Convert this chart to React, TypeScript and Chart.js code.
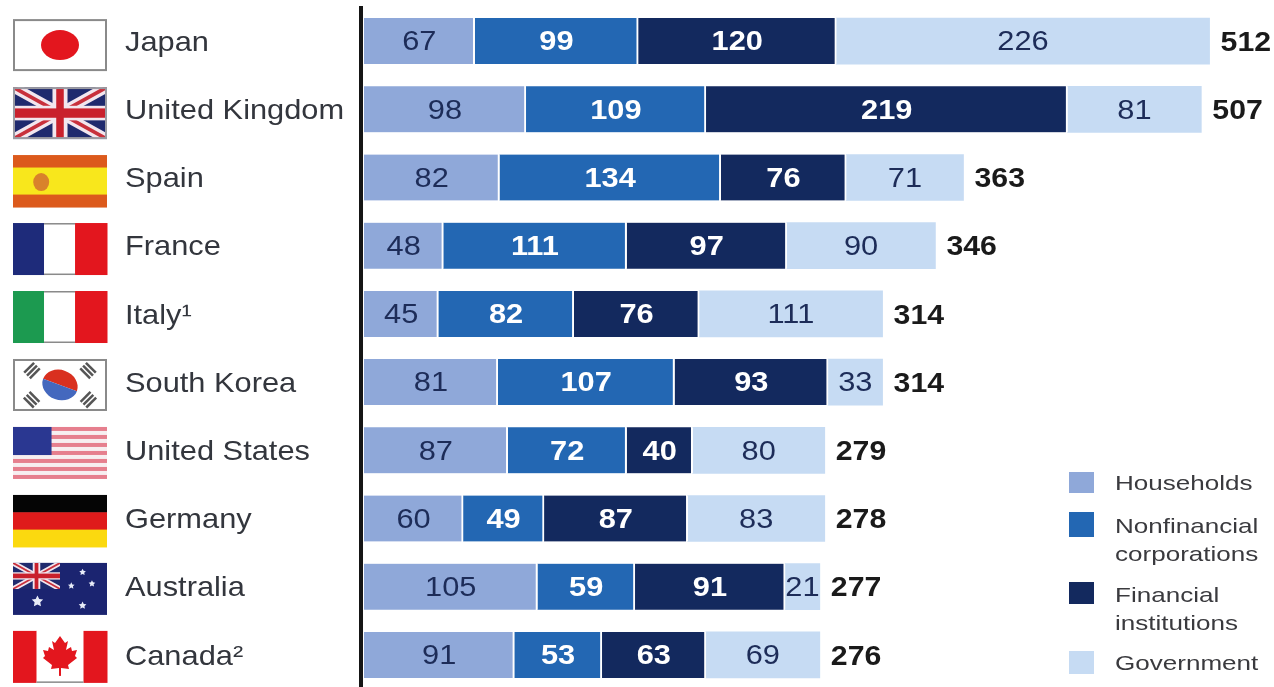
import React, { useEffect, useRef } from "react";
import { Chart, registerables } from "chart.js";

Chart.register(...registerables);

const countries = ["Japan", "United Kingdom", "Spain", "France", "Italy¹", "South Korea", "United States", "Germany", "Australia", "Canada²"];
const households = [67, 98, 82, 48, 45, 81, 87, 60, 105, 91];
const nonfinancial = [99, 109, 134, 111, 82, 107, 72, 49, 59, 53];
const financial = [120, 219, 76, 97, 76, 93, 40, 87, 91, 63];
const government = [226, 81, 71, 90, 111, 33, 80, 83, 21, 69];
const totals = [512, 507, 363, 346, 314, 314, 279, 278, 277, 276];
const flagCodes = ["jp", "uk", "es", "fr", "it", "kr", "us", "de", "au", "ca"];

const HOUSE = "#8FA8D9";
const NONFIN = "#2367B3";
const FIN = "#13295E";
const GOV = "#C6DBF3";
const NAVY = "#1E2B7A";
const RED = "#E3161E";
const FONT = '"Liberation Sans", Arial, sans-serif';

const FLAG_W = 94;
const FLAG_H = 52;

function stretchedText(ctx: CanvasRenderingContext2D, text: string, x: number, y: number, font: string, color: string, align: CanvasTextAlign, sx: number) {
  ctx.save();
  ctx.translate(x, y);
  ctx.scale(sx, 1);
  ctx.font = font;
  ctx.fillStyle = color;
  ctx.textAlign = align;
  ctx.textBaseline = "middle";
  ctx.fillText(text, 0, 0);
  ctx.restore();
}

function unionJack(c: CanvasRenderingContext2D, w: number, h: number) {
  c.fillStyle = "#1F2A6E";
  c.fillRect(0, 0, w, h);
  c.save();
  c.beginPath();
  c.rect(0, 0, w, h);
  c.clip();
  const diag = (col: string, lw: number) => {
    c.strokeStyle = col;
    c.lineWidth = lw;
    c.beginPath();
    c.moveTo(0, 0);
    c.lineTo(w, h);
    c.moveTo(w, 0);
    c.lineTo(0, h);
    c.stroke();
  };
  diag("#F2E6EE", h * 0.2);
  diag("#C8303C", h * 0.07);
  c.fillStyle = "#F2E6EE";
  c.fillRect(w * 0.42, 0, w * 0.16, h);
  c.fillRect(0, h * 0.36, w, h * 0.28);
  c.fillStyle = "#C9202C";
  c.fillRect(w * 0.46, 0, w * 0.08, h);
  c.fillRect(0, h * 0.41, w, h * 0.18);
  c.restore();
}

function star(c: CanvasRenderingContext2D, x: number, y: number, r: number) {
  c.fillStyle = "#E8ECF8";
  c.beginPath();
  for (let i = 0; i < 10; i++) {
    const a = -Math.PI / 2 + (i * Math.PI) / 5;
    const rr = i % 2 ? r * 0.5 : r;
    c.lineTo(x + Math.cos(a) * rr, y + Math.sin(a) * rr);
  }
  c.closePath();
  c.fill();
}

function drawFlag(c: CanvasRenderingContext2D, code: string, w: number, h: number) {
  const bands = (cols: string[], vertical: boolean, sizes?: number[]) => {
    let pos = 0;
    cols.forEach((col, i) => {
      const frac = sizes ? sizes[i] : 1 / cols.length;
      c.fillStyle = col;
      if (vertical) c.fillRect(pos * w, 0, frac * w + 0.5, h);
      else c.fillRect(0, pos * h, w, frac * h + 0.5);
      pos += frac;
    });
  };
  const border = (col = "#8A8A8A") => {
    c.strokeStyle = col;
    c.lineWidth = 2;
    c.strokeRect(1, 1, w - 2, h - 2);
  };
  if (code === "jp") {
    c.fillStyle = "#fff";
    c.fillRect(0, 0, w, h);
    c.fillStyle = RED;
    c.beginPath();
    c.ellipse(w / 2, h / 2, 19, 15, 0, 0, Math.PI * 2);
    c.fill();
    border();
  } else if (code === "uk") {
    unionJack(c, w, h);
    border("#9A9AA2");
  } else if (code === "es") {
    bands(["#DC5A1C", "#F8E71C", "#DC5A1C"], false, [0.24, 0.52, 0.24]);
    c.fillStyle = "#D9822B";
    c.beginPath();
    c.ellipse(w * 0.3, h * 0.52, 8, 9, 0, 0, Math.PI * 2);
    c.fill();
  } else if (code === "fr") {
    bands([NAVY, "#fff", RED], true, [0.33, 0.33, 0.34]);
    c.fillStyle = "#8A8A8A";
    c.fillRect(w * 0.33, 0, w * 0.33, 1.5);
    c.fillRect(w * 0.33, h - 1.5, w * 0.33, 1.5);
  } else if (code === "it") {
    bands(["#1C9A50", "#fff", RED], true, [0.33, 0.33, 0.34]);
    c.fillStyle = "#8A8A8A";
    c.fillRect(w * 0.33, 0, w * 0.33, 1.5);
    c.fillRect(w * 0.33, h - 1.5, w * 0.33, 1.5);
  } else if (code === "kr") {
    c.fillStyle = "#fff";
    c.fillRect(0, 0, w, h);
    c.save();
    c.translate(w / 2, h / 2);
    c.rotate(0.35);
    c.fillStyle = "#D9301F";
    c.beginPath();
    c.ellipse(0, 0, 18, 15, 0, Math.PI, 0);
    c.fill();
    c.fillStyle = "#4468BE";
    c.beginPath();
    c.ellipse(0, 0, 18, 15, 0, 0, Math.PI);
    c.fill();
    c.restore();
    c.fillStyle = "#555";
    [[0.2, 0.22, -1], [0.8, 0.22, 1], [0.2, 0.78, 1], [0.8, 0.78, -1]].forEach(([fx, fy, dir]) => {
      c.save();
      c.translate(fx * w, fy * h);
      c.rotate((dir * Math.PI) / 4);
      c.fillRect(-7, -5, 14, 2.5);
      c.fillRect(-7, -1, 14, 2.5);
      c.fillRect(-7, 3, 14, 2.5);
      c.restore();
    });
    border();
  } else if (code === "us") {
    c.fillStyle = "#F7EEF0";
    c.fillRect(0, 0, w, h);
    c.fillStyle = "#E67F8E";
    for (let i = 0; i < 7; i++) c.fillRect(0, (i * 2 * h) / 13, w, h / 13);
    c.fillStyle = "#2A3791";
    c.fillRect(0, 0, w * 0.41, h * 0.54);
  } else if (code === "de") {
    bands(["#050505", "#DF1B1B", "#FBD90F"], false);
  } else if (code === "au") {
    c.fillStyle = "#1B2470";
    c.fillRect(0, 0, w, h);
    c.save();
    c.scale(0.5, 0.5);
    unionJack(c, w, h);
    c.restore();
    star(c, w * 0.26, h * 0.74, 6);
    star(c, w * 0.74, h * 0.18, 3.5);
    star(c, w * 0.84, h * 0.4, 3.5);
    star(c, w * 0.62, h * 0.44, 3.5);
    star(c, w * 0.74, h * 0.82, 4);
  } else if (code === "ca") {
    bands([RED, "#fff", RED], true, [0.25, 0.5, 0.25]);
    const cx = w / 2;
    const cy = h / 2 - 2;
    const leaf = [[0, -19], [5, -12], [8, -14], [6, -5], [11, -8], [12, -4], [17, -5], [15, 1], [17, 3], [8, 10], [9, 14], [1, 13], [-1, 13], [-9, 14], [-8, 10], [-17, 3], [-15, 1], [-17, -5], [-12, -4], [-11, -8], [-6, -5], [-8, -14], [-5, -12]];
    c.fillStyle = RED;
    c.beginPath();
    leaf.forEach(([dx, dy]) => c.lineTo(cx + dx, cy + dy));
    c.closePath();
    c.fill();
    c.fillRect(cx - 1, cy + 12, 2, 9);
    c.fillStyle = "#8A8A8A";
    c.fillRect(w * 0.25, h - 1.5, w * 0.5, 1.5);
  }
}

const overlay = {
  id: "overlay",
  afterDraw(chart: any) {
    const { ctx, scales, chartArea } = chart;
    const yScale = scales.y;
    ctx.save();

    // vertical axis line
    ctx.fillStyle = "#151515";
    ctx.fillRect(chartArea.left - 5, chartArea.top - 1, 4, 700);

    // country labels and flags
    countries.forEach((name, i) => {
      const y = yScale.getPixelForTick(i);
      stretchedText(ctx, name, 125, y + 2, `28px ${FONT}`, "#33363D", "left", 1.1);
      ctx.save();
      ctx.translate(13, y + 4 - (i * 2) / 9 - FLAG_H / 2);
      drawFlag(ctx, flagCodes[i], FLAG_W, FLAG_H);
      ctx.restore();
    });

    // segment values
    chart.data.datasets.forEach((ds: any, di: number) => {
      const meta = chart.getDatasetMeta(di);
      const light = di === 0 || di === 3;
      meta.data.forEach((bar: any, i: number) => {
        const p = bar.getProps(["x", "base", "y"], true);
        const cx = (p.x + p.base) / 2;
        const font = light ? `28px ${FONT}` : `bold 28px ${FONT}`;
        stretchedText(ctx, String(ds.data[i]), cx, p.y + 1.5, font, light ? "#1D2C58" : "#FFFFFF", "center", 1.1);
      });
    });

    // totals
    const last = chart.getDatasetMeta(chart.data.datasets.length - 1);
    last.data.forEach((bar: any, i: number) => {
      const p = bar.getProps(["x", "y"], true);
      stretchedText(ctx, String(totals[i]), p.x + 11, p.y + 2, `bold 28px ${FONT}`, "#1A1A1A", "left", 1.08);
    });

    // legend
    const swatchY = [472, 512, 582, 651];
    const swatchH = [21, 25, 22, 23];
    const textY = [[484], [527, 555], [596, 624], [664]];
    const legendLines = [["Households"], ["Nonfinancial", "corporations"], ["Financial", "institutions"], ["Government"]];
    chart.data.datasets.forEach((ds: any, di: number) => {
      ctx.fillStyle = ds.backgroundColor;
      ctx.fillRect(1069, swatchY[di], 25, swatchH[di]);
      legendLines[di].forEach((line, li) => {
        stretchedText(ctx, line, 1115, textY[di][li], `21px ${FONT}`, "#3A3A3E", "left", 1.24);
      });
    });
    ctx.restore();
  },
};

export default function App() {
  const ref = useRef<HTMLCanvasElement>(null);
  useEffect(() => {
    const border = { top: 0, bottom: 0, left: 0, right: 2 };
    const chart = new Chart(ref.current!, {
      type: "bar",
      data: {
        labels: countries,
        datasets: [
          { label: "Households", data: households, backgroundColor: HOUSE, borderColor: "#fff", borderWidth: border, barThickness: 46 },
          { label: "Nonfinancial corporations", data: nonfinancial, backgroundColor: NONFIN, borderColor: "#fff", borderWidth: border, barThickness: 46 },
          { label: "Financial institutions", data: financial, backgroundColor: FIN, borderColor: "#fff", borderWidth: border, barThickness: 46 },
          { label: "Government", data: government, backgroundColor: GOV, borderColor: "#fff", borderWidth: 0, barThickness: 46 },
        ],
      },
      options: {
        indexAxis: "y",
        responsive: false,
        animation: false,
        layout: { padding: { left: 364, top: 7, bottom: 1, right: 0 } },
        plugins: { legend: { display: false }, tooltip: { enabled: false } },
        scales: {
          x: { stacked: true, display: false, min: 0, max: 551 },
          y: { stacked: true, display: false },
        },
      },
      plugins: [overlay],
    } as any);
    return () => chart.destroy();
  }, []);
  return (
    <div style={{ position: "fixed", left: 0, top: 0, width: 1274, height: 687, overflow: "hidden", background: "#fff" }}>
      <canvas ref={ref} width={1274} height={690} style={{ display: "block", filter: "blur(0.6px)" }} />
    </div>
  );
}
